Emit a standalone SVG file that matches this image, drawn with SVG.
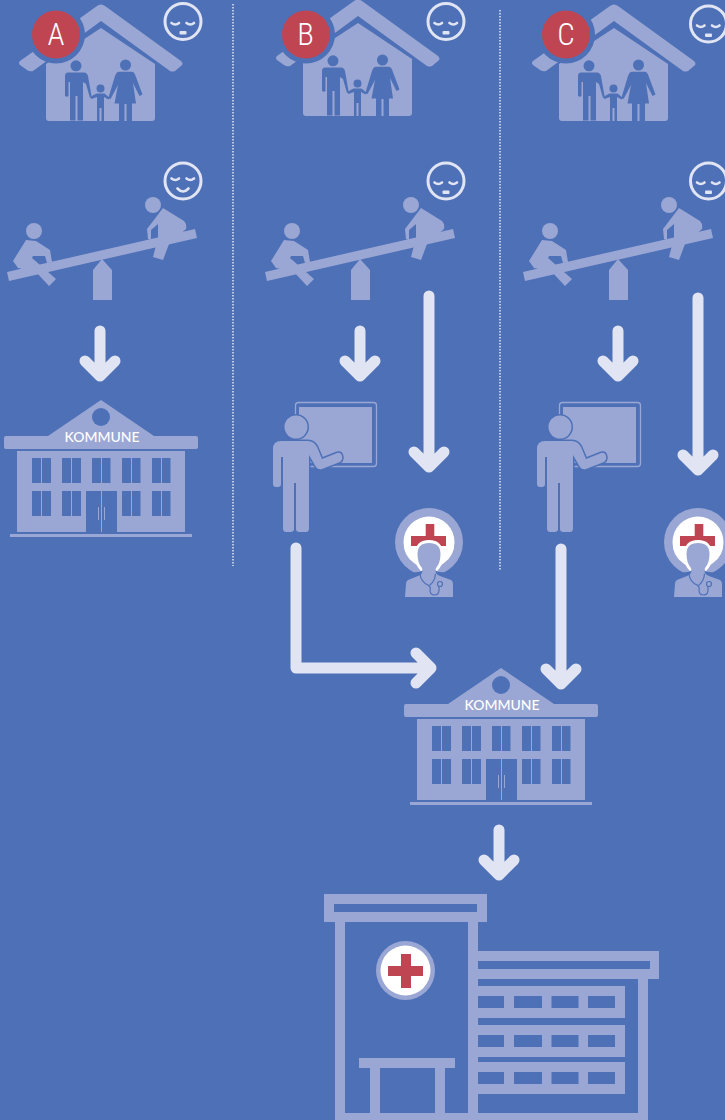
<svg xmlns="http://www.w3.org/2000/svg" width="725" height="1120" viewBox="0 0 725 1120">
<style>
.l{fill:#9aa7d4}.b{fill:#4e70b7}.r{fill:#c04552}.w{fill:#fff}
.bs{fill:none;stroke:#4e70b7;stroke-linecap:round;stroke-linejoin:round}
.ar{fill:none;stroke:#e0e4f3;stroke-width:11;stroke-linecap:round;stroke-linejoin:round}
.fc{fill:none;stroke:#e0e4f3;stroke-width:3}
.ff{fill:#e0e4f3}
.fl{fill:none;stroke:#e0e4f3;stroke-width:2.600;stroke-linecap:round}
.dot{stroke:#e0e4f3;stroke-width:1.500;stroke-dasharray:1.500 1.500;fill:none}
.bt{font-family:"Roboto Condensed","Liberation Sans Narrow",Roboto,"Liberation Sans",sans-serif;font-size:31px;font-weight:300;fill:#fff;text-anchor:middle}
.kt{font-family:Lato,"Open Sans",sans-serif;font-size:14px;font-weight:500;fill:#fff;text-anchor:middle}
</style>
<defs>
<symbol id="house" overflow="visible" width="725" height="1120">
<path class="l" d="M97 6Q101 3 105 6L181 61Q184 64 181 66L175 71Q172 72 170 71L101 21L33 71Q30 72 27 70L20 65Q18 63 20 61Z"/>
<path class="l" d="M101 28L155 64V118Q155 121 152 121H49Q46 121 46 118V64Z"/>
<circle class="b" cx="76" cy="65.800" r="5.500"/>
<path class="b" d="M68 72.500H84Q87 72.500 88 76L91.500 96L90 98L86 84L83 82V120.500H77.500V96H75.500V120.500H70V82L68.500 82V96Q67 97.500 65 96V76Q65 72.500 68 72.500Z"/>
<circle class="b" cx="100.500" cy="88.400" r="4"/>
<path class="b" d="M90 97L96.500 93.500H104.500L110 98L108.500 99.500L104 97V121H101.500V108H99.500V121H97V97L91.500 99Z"/>
<circle class="b" cx="125.500" cy="65" r="5.500"/>
<path class="b" d="M119 71.700H132Q134 71.700 135 74.500L142.500 94.500L139.500 96L133 83L136 103.500H132V121H126.500V104H124.500V121H119V103.500H114.500L118 85L110.500 99L108.500 97.500L115 76Q116.500 71.700 119 71.700Z"/>
</symbol>
<symbol id="seesaw" overflow="visible" width="725" height="1120">
<path class="l" d="M7 272L195 229L197 238L9 281Z"/>
<path class="l" d="M93 300V270L102 259L112 270V300Z"/>
<circle class="l" cx="34" cy="231" r="8"/>
<path class="l" d="M26 240L36 241L50 250L52 262L47 263L45 256L33 256L32 258L56 279L49 286L36 272L18 268L13 261Z"/>
<circle class="l" cx="153" cy="205" r="8"/>
<path class="l" d="M163 208L184 221Q187 224 186 229L169 244L163 260L153 257L158 238L158 224L151 230L151 240L148 239L147 229Z"/>
</symbol>
<symbol id="teacher" overflow="visible" width="725" height="1120">
<rect x="295.500" y="402.500" width="81" height="64" rx="3" fill="none" stroke="#9aa7d4" stroke-width="1.300"/>
<rect class="l" x="299" y="407" width="73" height="56"/>
<circle class="b" cx="296" cy="427" r="13"/>
<path id="tbody" fill="#9aa7d4" stroke="#4e70b7" stroke-width="3" paint-order="stroke" d="M281 441H308Q314 441 317 447L322 459L337 453Q341 452 342 456Q343 460 340 462L322 469Q318 470 316 467L309 455V528Q309 532 306 532H299Q297 532 296 530V483H294V530Q293 532 291 532H286Q283 532 283 528V457H281V484Q281 487 278 487H276Q273 487 273 484V449Q273 441 281 441Z"/>
<circle class="l" cx="296" cy="427" r="11.500"/>
</symbol>
<symbol id="doctor" overflow="visible" width="725" height="1120">
<circle class="l" cx="429" cy="542" r="34"/>
<path class="w" d="M403.500 542A25.500 25.500 0 0 1 454.500 542Q454.500 556 444 563Q438 567 437 571H421Q420 567 414 563Q403.500 556 403.500 542Z"/>
<path class="r" d="M425.700 524H434.300V536H446V546H411V536H425.700Z"/>
<path class="w" d="M415 555Q415 540 429 540Q443 540 443 555Q443 566 437 571H421Q415 566 415 555Z"/>
<path class="b" d="M400 574L418 572Q421 572 423 570H435Q437 572 440 572L458 574V600H400Z"/>
<path class="l" d="M417.500 554Q417.500 543 429 543Q440.500 543 440.500 554Q440.500 563 436 568Q435 570 436 573Q437 575 440 576L451 580Q453 581 453 584L453 597H405L406 584Q406 581 408 580L418 576Q421 575 422 573Q423 570 422 568Q417.500 563 417.500 554Z"/>
<path class="bs" d="M420 574Q421 582 428 585Q431 587 430 590Q430 595 434.500 595Q439 595 439 590V586M435.500 574Q435 581 430 585" stroke-width="1.200"/>
<circle cx="440" cy="584" r="2.500" fill="#9aa7d4" stroke="#4e70b7" stroke-width="1.200"/>
</symbol>
<symbol id="kommune" overflow="visible" width="725" height="1120">
<path class="l" d="M101 400L154 436H196Q198 436 198 438V447Q198 449 196 449H6Q4 449 4 447V438Q4 436 6 436H48Z"/>
<circle class="b" cx="101" cy="417" r="9"/>
<text class="kt" x="102" y="442">KOMMUNE</text>
<rect class="l" x="17" y="451" width="168" height="81"/>
<g class="b">
<rect x="32" y="458" width="19" height="25"/><rect x="62" y="458" width="19" height="25"/><rect x="92" y="458" width="18.500" height="25"/><rect x="122" y="458" width="18.500" height="25"/><rect x="152" y="458" width="18.500" height="25"/>
<rect x="32" y="491" width="19" height="25"/><rect x="62" y="491" width="19" height="25"/><rect x="122" y="491" width="18.500" height="25"/><rect x="152" y="491" width="18.500" height="25"/>
<rect x="86" y="491" width="31" height="41"/>
</g>
<path d="M41.500 458V483M71.500 458V483M101.500 458V483M131.500 458V483M161.500 458V483M41.500 491V516M71.500 491V516M131.500 491V516M161.500 491V516M101.500 491V532M98.500 507V520M104.500 507V520" stroke="#9aa7d4" stroke-width="1" fill="none"/>
<rect class="l" x="10" y="534" width="182" height="3"/>
</symbol>
<g id="sad">
<circle class="fc" r="18"/>
<path class="fl" d="M-11.500 1.500Q-7.700 4.500 -4 1.500M3.500 1.500Q7.300 4.500 11 1.500"/>
<rect class="ff" x="-3.500" y="9.500" width="7" height="3.500" rx="1"/>
</g>
<g id="happy">
<circle class="fc" r="18"/>
<path class="fl" d="M-11.500 -2.500Q-7.700 0.500 -4 -2.500M3.500 -2.500Q7.300 0.500 11 -2.500"/>
<path class="fl" d="M-5.500 7.500Q0 13.500 5.500 7.500" stroke-width="2.800"/>
</g>
</defs>
<rect id="bg" width="725" height="1120" fill="#4e70b7"/>
<g id="dividers">
<path class="dot" d="M233 4V566"/>
<path class="dot" d="M500 10V570"/>
</g>
<g id="connectors">
<path class="ar" d="M100 331V376M85 361L100 376L115 361"/>
<path class="ar" d="M360 331V376M345 361L360 376L375 361"/>
<path class="ar" d="M618 331V376M603 361L618 376L633 361"/>
<path class="ar" d="M429 296V467M414 452L429 467L444 452"/>
<path class="ar" d="M698 298V470M683 455L698 470L713 455"/>
<path class="ar" d="M296 548V668H431M416 653L431 668L416 683"/>
<path class="ar" d="M561 549V684M546 669L561 684L576 669"/>
<path class="ar" d="M499 830V875M484 860L499 875L514 860"/>
</g>
<g id="node-a-home"><use href="#house"/></g>
<g id="node-b-home"><use href="#house" x="257" y="-5"/></g>
<g id="node-c-home"><use href="#house" x="513" y="0"/></g>
<g id="badge-a"><circle class="b" cx="56" cy="34.500" r="29"/><circle class="r" cx="56" cy="34.500" r="24"/><text class="bt" x="56" y="45">A</text></g>
<g id="badge-b"><circle class="b" cx="306" cy="34.500" r="29"/><circle class="r" cx="306" cy="34.500" r="24"/><text class="bt" x="305.500" y="45">B</text></g>
<g id="badge-c"><circle class="b" cx="566" cy="34.500" r="29"/><circle class="r" cx="566" cy="34.500" r="24"/><text class="bt" x="566" y="45">C</text></g>
<g id="face-a-home"><use href="#sad" x="183" y="21.500"/></g>
<g id="face-b-home"><use href="#sad" x="446" y="21.500"/></g>
<g id="face-c-home"><use href="#sad" x="708.500" y="24"/></g>
<g id="node-a-play"><use href="#seesaw"/></g>
<g id="node-b-play"><use href="#seesaw" x="258"/></g>
<g id="node-c-play"><use href="#seesaw" x="516"/></g>
<g id="face-a-play"><use href="#happy" x="183" y="181"/></g>
<g id="face-b-play"><use href="#sad" x="446" y="181"/></g>
<g id="face-c-play"><use href="#sad" x="708.500" y="181"/></g>
<g id="node-a-kommune"><use href="#kommune"/></g>
<g id="node-shared-kommune"><use href="#kommune" x="400" y="268"/></g>
<g id="node-b-teacher"><use href="#teacher"/></g>
<g id="node-c-teacher"><use href="#teacher" x="264"/></g>
<g id="node-b-doctor"><use href="#doctor"/></g>
<g id="node-c-doctor"><use href="#doctor" x="269"/></g>
<g id="node-hospital">
<path class="l" fill-rule="evenodd" d="M324 894H487V922H324ZM334 904V912H477V904Z"/>
<rect class="l" x="335" y="922" width="10" height="198"/>
<rect class="l" x="468" y="922" width="10" height="198"/>
<rect class="l" x="335" y="1113" width="313" height="7"/>
<path class="l" fill-rule="evenodd" d="M478 951H659V979H478ZM478 961V969H650V961Z"/>
<rect class="l" x="638" y="979" width="10" height="141"/>
<g class="l"><rect x="478" y="986" width="147" height="32"/><rect x="478" y="1025" width="147" height="32"/><rect x="478" y="1062" width="147" height="32"/></g>
<g class="b">
<rect x="478" y="996" width="26" height="12"/><rect x="514" y="996" width="28" height="12"/><rect x="551.500" y="996" width="27" height="12"/><rect x="588" y="996" width="27" height="12"/>
<rect x="478" y="1035" width="26" height="12"/><rect x="514" y="1035" width="28" height="12"/><rect x="551.500" y="1035" width="27" height="12"/><rect x="588" y="1035" width="27" height="12"/>
<rect x="478" y="1072" width="26" height="12"/><rect x="514" y="1072" width="28" height="12"/><rect x="551.500" y="1072" width="27" height="12"/><rect x="588" y="1072" width="27" height="12"/>
</g>
<rect class="l" x="359" y="1058" width="96" height="10"/>
<rect class="l" x="370" y="1068" width="10" height="45"/>
<rect class="l" x="435" y="1068" width="10" height="45"/>
<circle class="l" cx="405.500" cy="970.500" r="29.500"/>
<circle class="w" cx="405.500" cy="970.500" r="25"/>
<path class="r" d="M401 954H411V966H423V976H411V988H401V976H388V966H401Z"/>
</g>
</svg>
